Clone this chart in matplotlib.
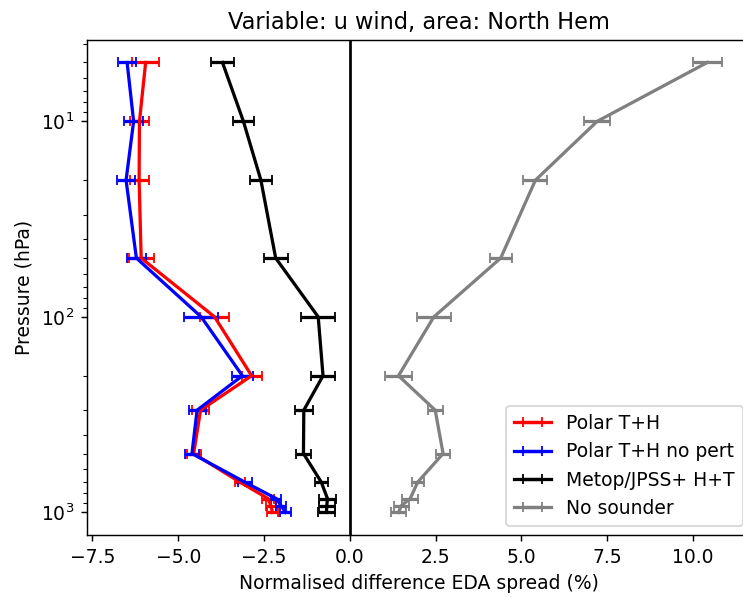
import numpy as np
import matplotlib
matplotlib.use('Agg')
import matplotlib.pyplot as plt

pressure = [5, 10, 20, 50, 100, 200, 300, 500, 700, 850, 925, 1000]

polar_th = [-5.95, -6.13, -6.14, -6.08, -3.94, -2.86, -4.35, -4.55, -3.2, -2.38, -2.3, -2.25]
polar_th_err = [0.4, 0.29, 0.28, 0.36, 0.42, 0.29, 0.25, 0.2, 0.15, 0.17, 0.15, 0.15]

polar_nopert = [-6.49, -6.3, -6.52, -6.22, -4.33, -3.13, -4.45, -4.6, -3.06, -2.14, -2.0, -1.87]
polar_nopert_err = [0.27, 0.27, 0.26, 0.28, 0.5, 0.3, 0.25, 0.2, 0.2, 0.15, 0.15, 0.17]

metop = [-3.71, -3.1, -2.59, -2.16, -0.92, -0.78, -1.34, -1.35, -0.83, -0.65, -0.67, -0.68]
metop_err = [0.33, 0.3, 0.33, 0.35, 0.49, 0.36, 0.27, 0.23, 0.19, 0.24, 0.24, 0.24]

no_sounder = [10.42, 7.21, 5.41, 4.40, 2.45, 1.42, 2.49, 2.72, 1.98, 1.76, 1.5, 1.42]
no_sounder_err = [0.42, 0.38, 0.35, 0.32, 0.49, 0.38, 0.22, 0.21, 0.18, 0.24, 0.22, 0.22]

plt.rcParams['font.size'] = 10.4
plt.rcParams['lines.linewidth'] = 1.8

dpi = 130
fig = plt.figure(figsize=(743 / dpi, 597 / dpi), dpi=dpi)
ax = fig.add_axes([0.117, 0.104, 0.895, 0.829])

ax.errorbar(polar_th, pressure, xerr=polar_th_err, color='red', capsize=3, label='Polar T+H')
ax.errorbar(polar_nopert, pressure, xerr=polar_nopert_err, color='blue', capsize=3, label='Polar T+H no pert')
ax.errorbar(metop, pressure, xerr=metop_err, color='black', capsize=3, label='Metop/JPSS+ H+T')
ax.errorbar(no_sounder, pressure, xerr=no_sounder_err, color='grey', capsize=3, label='No sounder')
ax.axvline(0, color='black', linewidth=1.5)

ax.set_yscale('log')
ax.invert_yaxis()
ax.set_xlabel('Normalised difference EDA spread (%)')
ax.set_ylabel('Pressure (hPa)')
ax.set_title('Variable: u wind, area: North Hem')
ax.legend(loc='lower right')

fig.savefig('out.png', dpi=dpi)
